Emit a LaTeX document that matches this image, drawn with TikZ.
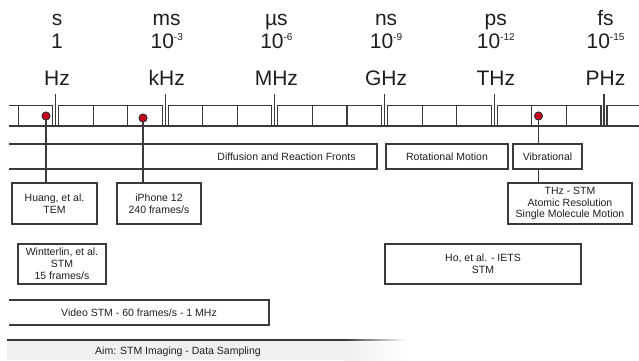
\documentclass[tikz,border=0pt]{standalone}
\usepackage{fontspec}
\setmainfont{Liberation Sans}
\definecolor{lc}{HTML}{3A3A3A}
\definecolor{tc}{HTML}{1E1E1E}
\definecolor{dotred}{HTML}{C8001E}
\begin{document}
\begin{tikzpicture}[x=1pt,y=-1pt,
  ln/.style={draw=lc, line width=1.1pt},
  bx/.style={draw=lc, line width=1.1pt, align=center, text=tc, inner sep=0pt,
    font=\fontsize{10.5}{11.8}\selectfont},
  lbl/.style={text=tc, font=\fontsize{10.5}{11.8}\selectfont, inner sep=0pt},
  big/.style={text=tc, font=\fontsize{21}{21}\selectfont, inner sep=0pt, anchor=base},
  dotn/.style={circle, fill=dotred, draw=black!80, line width=0.8pt, minimum size=8pt, inner sep=0pt}]
\useasboundingbox (0,0) rectangle (639,360);

% ---- top labels
\foreach \x/\t/\n/\f in {55.5/s/1/Hz, 165.2/ms/10\raisebox{8pt}{\fontsize{10}{10}\selectfont -3}/kHz,
  274.9/µs/10\raisebox{8pt}{\fontsize{10}{10}\selectfont -6}/MHz,
  384.6/ns/10\raisebox{8pt}{\fontsize{10}{10}\selectfont -9}/GHz,
  494.3/ps/10\raisebox{8pt}{\fontsize{10}{10}\selectfont -12}/THz,
  604/fs/10\raisebox{8pt}{\fontsize{10}{10}\selectfont -15}/PHz}{
  \node[big] at (\x+1.5,25) {\t};
  \node[big] at (\x+1.5,48) {\n};
  \node[big] at (\x+1.5,85) {\f};
}

% ---- scale bar
\draw[ln] (9,126) -- (639,126);
\draw[ln] (9,105.5) -- (52.5,105.5) -- (52.5,126);
\draw[ln] (18.5,105.5) -- (18.5,126);
\foreach \a/\b in {55.5/165.2, 165.2/274.9, 274.9/384.6, 384.6/494.3, 494.3/604}{
  \draw[ln] (\a+3,105.5) rectangle (\b-3,126);
  \draw[ln] ({\a+3+(\b-\a-6)/3},105.5) -- ({\a+3+(\b-\a-6)/3},126);
  \draw[ln] ({\a+3+2*(\b-\a-6)/3},105.5) -- ({\a+3+2*(\b-\a-6)/3},126);
}
\draw[ln] (640,105.5) -- (607,105.5) -- (607,126);
\foreach \x in {55.5,165.2,274.9,384.6,494.3,604}{
  \draw[ln] (\x,94) -- (\x,126);
}

% ---- phenomena row
\draw[ln] (9,144) -- (377,144) -- (377,169) -- (9,169);
\node[lbl] (diff) at (286.5,156.5) {Diffusion and Reaction Fronts};
\node[bx, minimum width=122pt, minimum height=25pt] (rot) at (447,156.5) {Rotational Motion};
\node[bx, minimum width=69pt, minimum height=25pt] (vib) at (547.5,156.5) {Vibrational};

% ---- technique boxes
\node[bx, minimum width=85pt, minimum height=41pt] (huang) at (54.5,203.5) {Huang, et al.\\TEM};
\node[bx, minimum width=84pt, minimum height=41pt] (iphone) at (159,203.5) {iPhone 12\\240 frames/s};
\node[bx, minimum width=124pt, minimum height=41pt] (thz) at (570,203.5) {THz - STM\\Atomic Resolution\\Single Molecule Motion};
\node[bx, minimum width=88pt, minimum height=40pt] (wint) at (62,264) {Wintterlin, et al.\\STM\\15 frames/s};
\node[bx, minimum width=196pt, minimum height=40pt] (ho) at (483,264) {Ho, et al. - IETS\\STM};
\draw[ln] (9,300) -- (269,300) -- (269,325) -- (9,325);
\node[lbl] (video) at (139,312.5) {Video STM - 60 frames/s - 1 MHz};

% ---- dots and connectors
\node[dotn] (d1) at (46,116) {};
\node[dotn] (d2) at (143,118) {};
\node[dotn] (d3) at (538.5,116) {};
\draw[ln] (d1) -- (d1 |- huang.north);
\draw[ln] (d2) -- (d2 |- iphone.north);
\draw[ln] (d3) -- (d3 |- vib.north);
\draw[ln] (d3 |- vib.south) -- (d3 |- thz.north);
\node[dotn] at (d1) {};
\node[dotn] at (d2) {};
\node[dotn] at (d3) {};

% ---- bottom band
\fill[black!6] (7,340) rectangle (345,360);
\shade[left color=black!6, right color=white] (345,340) rectangle (405,360);
\draw[ln] (7,340) -- (345,340);
\shade[left color=lc, right color=white] (345,339.45) rectangle (405,340.55);
\node[lbl] (aim) at (178,351.5) {Aim: STM Imaging - Data Sampling};
\end{tikzpicture}
\end{document}
